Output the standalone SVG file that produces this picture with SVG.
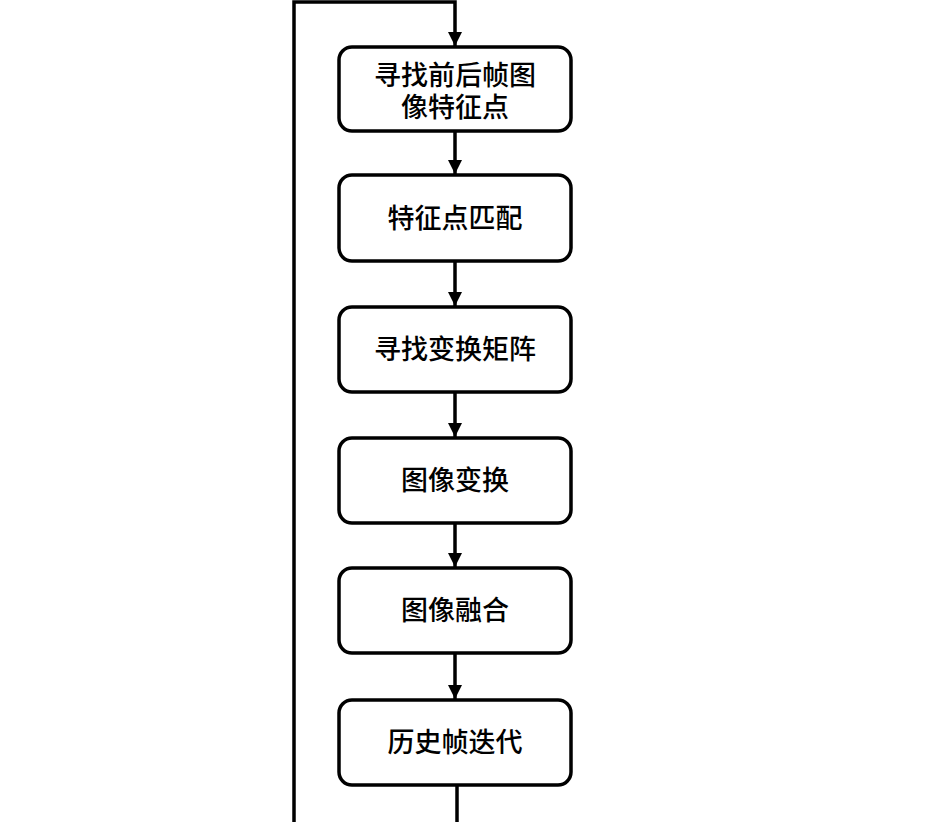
<svg xmlns="http://www.w3.org/2000/svg" width="946" height="822" viewBox="0 0 946 822">
<defs>
<style>
.box{fill:#fff;stroke:#000;stroke-width:3.5}
.t{font-family:"Liberation Sans","Noto Sans CJK SC",sans-serif;font-size:27px;font-weight:500;fill:#000;text-anchor:middle}
.ln{fill:none;stroke:#000;stroke-width:3.5}
</style>
<marker id="ah" markerUnits="userSpaceOnUse" markerWidth="16" markerHeight="16" viewBox="0 0 16 16" refX="14" refY="8" orient="auto">
<path d="M0,1 L14,8 L0,15 Z" fill="#000"/>
</marker>
</defs>
<rect width="946" height="822" fill="#fff"/>
<g id="connectors">
<path class="ln" d="M294,822 V2 H455 V46" marker-end="url(#ah)"/>
<path class="ln" d="M455,131 V174" marker-end="url(#ah)"/>
<path class="ln" d="M455,261 V306" marker-end="url(#ah)"/>
<path class="ln" d="M455,392 V437" marker-end="url(#ah)"/>
<path class="ln" d="M455,523 V567" marker-end="url(#ah)"/>
<path class="ln" d="M455,653 V699" marker-end="url(#ah)"/>
<path class="ln" d="M457,785 V822"/>
</g>
<g id="n1"><rect class="box" x="339" y="47" width="232" height="84" rx="13"/><text class="t" x="455" y="85"><tspan x="455" y="85">寻找前后帧图</tspan><tspan x="455" y="117">像特征点</tspan></text></g>
<g id="n2"><rect class="box" x="339" y="175" width="232" height="86" rx="13"/><text class="t" x="455" y="228">特征点匹配</text></g>
<g id="n3"><rect class="box" x="339" y="307" width="232" height="85" rx="13"/><text class="t" x="455" y="359">寻找变换矩阵</text></g>
<g id="n4"><rect class="box" x="339" y="438" width="232" height="85" rx="13"/><text class="t" x="455" y="490">图像变换</text></g>
<g id="n5"><rect class="box" x="339" y="568" width="232" height="85" rx="13"/><text class="t" x="455" y="620">图像融合</text></g>
<g id="n6"><rect class="box" x="339" y="700" width="232" height="85" rx="13"/><text class="t" x="455" y="752">历史帧迭代</text></g>
</svg>
